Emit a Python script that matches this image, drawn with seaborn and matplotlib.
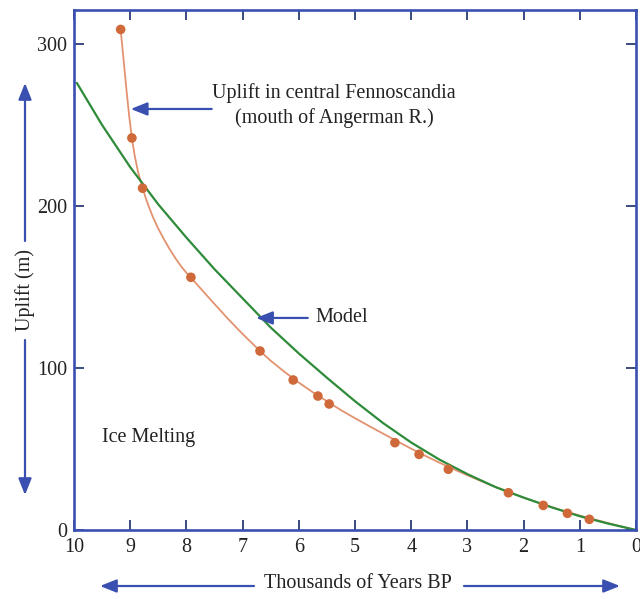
import matplotlib
matplotlib.use("Agg")
import matplotlib.pyplot as plt
import seaborn as sns
import pandas as pd

# ---- data ----
obs_x = [9.17, 8.97, 8.78, 7.92, 6.69, 6.10, 5.66, 5.46, 4.29, 3.86, 3.34, 2.27, 1.65, 1.22, 0.83]
obs_y = [309, 242, 211, 156, 110.5, 92.6, 82.7, 77.8, 53.9, 46.7, 37.5, 23.0, 15.2, 10.3, 6.6]

fit_x = [9.17, 9.12, 9.07, 9.02, 8.97, 8.92, 8.86, 8.78, 8.7, 8.6, 8.5, 8.4, 8.3, 8.2, 8.1,
         8.0, 7.92, 7.75, 7.5, 7.25, 7.0, 6.69, 6.5, 6.25, 6.0, 5.75, 5.5, 5.25, 5.0,
         4.75, 4.5, 4.25, 4.0, 3.75, 3.5, 3.25, 3.0, 2.75, 2.5, 2.25, 2.0, 1.75, 1.5,
         1.25, 1.0, 0.75, 0.5, 0.25, 0.0]
fit_y = [309, 291, 273, 256, 242, 231, 221, 211, 202.5, 193.5, 186, 179.5, 173.5, 168, 163,
         158.8, 155.8, 149.2, 139.5, 130, 121, 110.5, 104.5, 97.5, 91, 85, 79.5, 74, 69,
         64.2, 59.5, 54.8, 50.2, 45.8, 41.6, 37.6, 33.8, 30.1, 26.6, 23.2, 20, 17, 14.1,
         11.4, 8.9, 6.6, 4.3, 2.1, 0]

model_x = [9.95, 9.5, 9.0, 8.5, 8.0, 7.5, 7.0, 6.5, 6.0, 5.5, 5.0, 4.5, 4.0, 3.5, 3.0,
           2.5, 2.0, 1.5, 1.0, 0.5, 0.0]
model_y = [276, 250, 224, 201, 180.5, 161, 143, 125, 109, 94, 79.5, 66, 54, 43.5, 34.5,
           26.5, 20, 14, 8.5, 4, 0]

x_ticks = [10, 9, 8, 7, 6, 5, 4, 3, 2, 1, 0]
y_ticks = [0, 100, 200, 300]

x_label = "Thousands of Years BP"
y_label = "Uplift (m)"
ann_uplift = ["Uplift in central Fennoscandia", "(mouth of Angerman R.)"]
ann_model = "Model"
ann_ice = "Ice Melting"

# ---- style ----
sns.set_style("white")
plt.rcParams["font.family"] = ["Liberation Serif", "DejaVu Serif"]
plt.rcParams["lines.solid_joinstyle"] = "round"
FS = 14.5
BLUE = "#3A50B0"
TICKC = "#3A4A80"
ORANGE_DOT = "#D0693A"
ORANGE_LINE = "#E39270"
GREEN = "#2E8B3A"
TXT = "#222222"

W, H = 640, 599
fig = plt.figure(figsize=(6.4, 5.99), dpi=100)
ax = fig.add_axes([74 / W, 1 - 530 / H, (636 - 74) / W, (530 - 10) / H])

df_fit = pd.DataFrame({"x": fit_x, "y": fit_y})
df_model = pd.DataFrame({"x": model_x, "y": model_y})
df_obs = pd.DataFrame({"x": obs_x, "y": obs_y})

sns.lineplot(data=df_fit, x="x", y="y", ax=ax, color=ORANGE_LINE, lw=1.3,
             sort=False, estimator=None)
sns.lineplot(data=df_model, x="x", y="y", ax=ax, color=GREEN, lw=1.6,
             sort=False, estimator=None)
sns.scatterplot(data=df_obs, x="x", y="y", ax=ax, color=ORANGE_DOT, s=48,
                edgecolor="none", zorder=5)

ax.set_xlim(10, 0)
ax.set_ylim(0, 321)
ax.set_xticks(x_ticks)
ax.set_xticklabels([str(t) for t in x_ticks])
ax.set_yticks(y_ticks)
ax.set_yticklabels([str(t) for t in y_ticks])
ax.set_xlabel("")
ax.set_ylabel("")

for sp in ax.spines.values():
    sp.set_color(BLUE)
    sp.set_linewidth(1.9)
    sp.set_visible(True)

ax.tick_params(axis="both", which="both", direction="in", length=7, width=1.4,
               color=TICKC, labelsize=FS, labelcolor=TXT,
               top=True, right=True, bottom=True, left=True)
ax.tick_params(axis="x", pad=6)
ax.tick_params(axis="y", pad=5)

arrow_kw = dict(arrowstyle="-|>,head_length=0.55,head_width=0.22", color=BLUE,
                lw=1.6, mutation_scale=18, shrinkA=0, shrinkB=0)

# in-axes annotations
ax.text(5.37, 269.8, ann_uplift[0], ha="center", va="center", fontsize=FS, color=TXT)
ax.text(5.37, 254.3, ann_uplift[1], ha="center", va="center", fontsize=FS, color=TXT)
ax.annotate("", xy=(8.99, 259.9), xytext=(7.55, 259.9), arrowprops=arrow_kw)

ax.text(5.71, 130.9, ann_model, ha="left", va="center", fontsize=FS, color=TXT)
ax.annotate("", xy=(6.76, 130.9), xytext=(5.84, 130.9), arrowprops=arrow_kw)

ax.text(9.50, 57.4, ann_ice, ha="left", va="center", fontsize=FS, color=TXT)


def fp(px, py):
    return (px / W, 1 - py / H)


# y-axis label with arrows
fig.text(*fp(25, 290), y_label, rotation=90, ha="center", va="center",
         fontsize=FS, color=TXT)
ax.annotate("", xy=fp(25, 83), xytext=fp(25, 241), xycoords="figure fraction",
            textcoords="figure fraction", arrowprops=arrow_kw, annotation_clip=False)
ax.annotate("", xy=fp(25, 495), xytext=fp(25, 340), xycoords="figure fraction",
            textcoords="figure fraction", arrowprops=arrow_kw, annotation_clip=False)

# x-axis label with arrows
fig.text(*fp(358, 584), x_label, ha="center", va="center", fontsize=FS, color=TXT)
ax.annotate("", xy=fp(100, 586), xytext=fp(254, 586), xycoords="figure fraction",
            textcoords="figure fraction", arrowprops=arrow_kw, annotation_clip=False)
ax.annotate("", xy=fp(620, 586), xytext=fp(464, 586), xycoords="figure fraction",
            textcoords="figure fraction", arrowprops=arrow_kw, annotation_clip=False)

fig.savefig("out.png", dpi=100)
